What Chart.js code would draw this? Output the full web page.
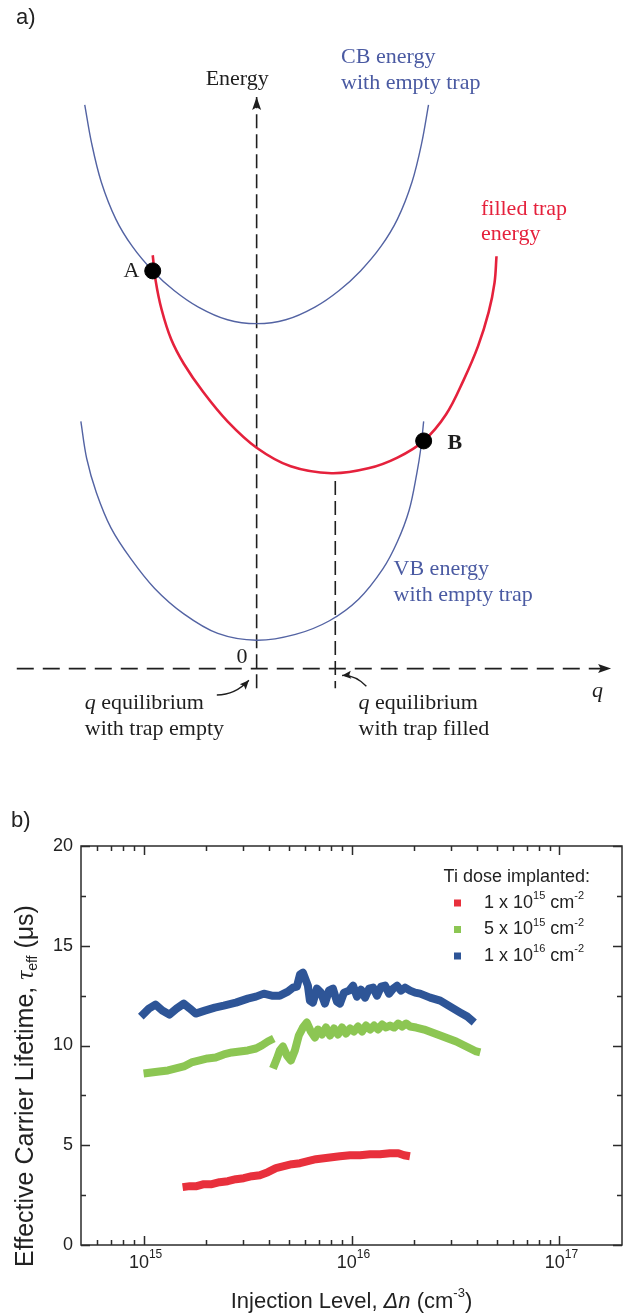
<!DOCTYPE html>
<html>
<head>
<meta charset="utf-8">
<script src="https://cdn.jsdelivr.net/npm/chart.js@4.4.1/dist/chart.umd.min.js"></script>
<style>
  html, body { margin: 0; padding: 0; background: #fff; }
  #wrapA { position: absolute; left: 0; top: 0; width: 623px; height: 790px; }
  #wrapB { position: absolute; left: 0; top: 790px; width: 623px; height: 526px; }
</style>
</head>
<body>
<div id="wrapA"><canvas id="diagram"></canvas></div>
<div id="wrapB"><canvas id="lifetime"></canvas></div>
<script>
// ---- panel a: configuration-coordinate sketch (q, energy) ----
const cbQ = [-1.77, -1.70, -1.60, -1.45, -1.28, -1.07, -0.85, -0.60, -0.30, 0, 0.30, 0.60, 0.85, 1.07, 1.28, 1.45, 1.60, 1.70, 1.77];
const cbE = [5.77, 5.38, 4.98, 4.60, 4.32, 4.07, 3.87, 3.70, 3.57, 3.53, 3.57, 3.70, 3.87, 4.07, 4.32, 4.60, 4.98, 5.38, 5.77];
const vbQ = [-1.81, -1.75, -1.65, -1.50, -1.30, -1.05, -0.75, -0.40, 0, 0.40, 0.75, 1.05, 1.30, 1.45, 1.57, 1.65, 1.69, 1.72];
const vbE = [2.53, 2.15, 1.80, 1.44, 1.13, 0.82, 0.56, 0.36, 0.29, 0.35, 0.49, 0.71, 1.02, 1.30, 1.62, 2.0, 2.25, 2.53];
const trapQ = [-1.07, -1.04, -0.98, -0.88, -0.75, -0.55, -0.30, 0, 0.35, 0.77, 1.15, 1.45, 1.72, 1.95, 2.13, 2.28, 2.39, 2.45, 2.47];
const trapE = [4.23, 3.97, 3.68, 3.37, 3.12, 2.83, 2.53, 2.26, 2.07, 2.0, 2.05, 2.16, 2.33, 2.60, 2.95, 3.30, 3.65, 3.95, 4.22];
const crossQ = [-1.07, 1.72];
const crossE = [4.07, 2.33];
const eAxisQ = [0, 0], eAxisE = [-0.2, 5.85];
const qAxisQ = [-2.47, 3.65], qAxisE = [0, 0];
const filledQ = [0.81, 0.81], filledE = [1.92, -0.2];

// ---- panel b: effective lifetime vs injection level ----
const redX = [1.54e15, 1.67e15, 1.80e15, 1.95e15, 2.13e15, 2.32e15, 2.54e15, 2.78e15, 3.03e15, 3.32e15, 3.62e15, 3.96e15, 4.33e15, 4.73e15, 5.17e15, 5.65e15, 6.17e15, 6.75e15, 7.37e15, 8.05e15, 8.8e15, 9.84e15, 1.1e16, 1.23e16, 1.37e16, 1.53e16, 1.68e16, 1.79e16, 1.91e16];
const redY = [2.9, 2.95, 2.95, 3.05, 3.05, 3.15, 3.2, 3.3, 3.35, 3.45, 3.5, 3.65, 3.85, 3.95, 4.05, 4.1, 4.2, 4.3, 4.35, 4.4, 4.45, 4.5, 4.5, 4.55, 4.55, 4.6, 4.6, 4.5, 4.45];

const greenX = [1.0e15, 1.09e15, 1.19e15, 1.31e15, 1.43e15, 1.56e15, 1.70e15, 1.86e15, 2.03e15, 2.22e15, 2.43e15, 2.66e15, 2.90e15, 3.17e15, 3.47e15, 3.70e15, 3.96e15, 4.23e15,
  4.21e15,
  4.19e15, 4.38e15, 4.52e15, 4.68e15, 4.89e15, 5.11e15, 5.34e15, 5.58e15, 5.84e15, 6.10e15, 6.38e15, 6.67e15, 6.90e15, 7.21e15, 7.54e15, 7.88e15, 8.24e15, 8.61e15, 9.0e15, 9.41e15,
  9.84e15, 1.028e16, 1.075e16, 1.124e16, 1.175e16, 1.228e16, 1.284e16, 1.342e16, 1.403e16, 1.467e16, 1.533e16, 1.603e16, 1.676e16, 1.752e16, 1.831e16, 1.914e16, 2.046e16, 2.236e16,
  2.443e16, 2.671e16, 2.917e16, 3.188e16, 3.485e16, 3.725e16, 3.981e16, 4.162e16];
const greenY = [8.6, 8.65, 8.7, 8.75, 8.85, 8.95, 9.15, 9.25, 9.35, 9.4, 9.55, 9.65, 9.7, 9.75, 9.85, 10.0, 10.2, 10.35,
  null,
  8.85, 9.35, 9.75, 9.95, 9.5, 9.25, 9.75, 10.5, 10.9, 11.15, 10.7, 10.4, 10.8, 10.55, 10.9, 10.5, 10.85, 10.55, 10.9, 10.6,
  10.85, 10.7, 10.95, 10.7, 11.0, 10.8, 11.0, 10.8, 11.05, 10.9, 11.0, 10.9, 11.1, 10.95, 11.1, 10.95, 10.9, 10.8,
  10.65, 10.5, 10.35, 10.2, 10.0, 9.85, 9.7, 9.65];

const blueX = [9.7e14, 1.06e15, 1.14e15, 1.23e15, 1.33e15, 1.44e15, 1.56e15, 1.67e15, 1.78e15, 1.97e15, 2.2e15, 2.43e15, 2.78e15, 3.17e15, 3.47e15, 3.79e15, 4.14e15, 4.52e15, 4.94e15, 5.23e15,
  5.46e15, 5.65e15, 5.84e15, 6.04e15, 6.17e15, 6.31e15, 6.52e15, 6.82e15, 7.13e15, 7.45e15, 7.79e15, 8.14e15, 8.51e15, 8.8e15, 9.2e15, 9.73e15, 1.017e16, 1.063e16, 1.111e16, 1.162e16,
  1.215e16, 1.27e16, 1.327e16, 1.388e16, 1.45e16, 1.516e16, 1.585e16, 1.657e16, 1.732e16, 1.81e16, 1.914e16, 2.023e16, 2.138e16, 2.389e16, 2.671e16, 2.984e16, 3.335e16, 3.603e16, 3.894e16];
const blueY = [11.45, 11.85, 12.05, 11.75, 11.55, 11.85, 12.1, 11.85, 11.6, 11.75, 11.9, 12.0, 12.15, 12.35, 12.45, 12.6, 12.5, 12.5, 12.7, 12.9,
  12.95, 13.55, 13.65, 13.25, 13.0, 12.25, 12.15, 12.85, 12.65, 12.1, 12.75, 12.85, 12.2, 12.1, 12.65, 12.75, 13.0, 12.45, 12.8, 12.4,
  12.85, 12.9, 12.5, 12.95, 13.0, 12.6, 12.85, 13.0, 12.75, 12.9, 12.75, 12.65, 12.6, 12.4, 12.25, 11.95, 11.65, 11.45, 11.15];

const doseMantissa = ['1', '5', '1'];
const doseExponent = ['15', '15', '16'];
const yTicks = [0, 5, 10, 15, 20];
const yMinorTicks = [2.5, 7.5, 12.5, 17.5];
const xDecades = [14, 15, 16, 17];
const xLabelDecades = [15, 16, 17];
const xFactors = [1, 2, 3, 4, 5, 6, 7, 8, 9];

const SANS = '"Liberation Sans", Arial, Helvetica, sans-serif';
const SERIF = '"Liberation Serif", "Times New Roman", serif';
const INK = '#1e1e1e';
const CURVE_BLUE = '#5363a3';
const TEXT_BLUE = '#4a5aa2';
const TRAP_RED = '#e5213c';
const SERIES_COLORS = ['#e8303c', '#8cc653', '#2e5597'];

function pts(xs, ys) {
  return xs.map((x, i) => ({ x: x, y: ys[i] }));
}

function drawRich(ctx, parts, x, y, align, baseFont) {
  let w = 0;
  const sized = parts.map(p => {
    ctx.font = p.font || baseFont;
    const pw = ctx.measureText(p.t).width;
    w += pw;
    return { t: p.t, font: p.font || baseFont, dy: p.dy || 0, w: pw };
  });
  let cx = align === 'center' ? x - w / 2 : align === 'right' ? x - w : x;
  ctx.textAlign = 'left';
  sized.forEach(p => {
    ctx.font = p.font;
    ctx.fillText(p.t, cx, y + p.dy);
    cx += p.w;
  });
}

function arrowHead(ctx, tx, ty, angle, len, half) {
  ctx.save();
  ctx.translate(tx, ty);
  ctx.rotate(angle);
  ctx.beginPath();
  ctx.moveTo(0, 0);
  ctx.lineTo(-len, -half);
  ctx.lineTo(-len * 0.8, 0);
  ctx.lineTo(-len, half);
  ctx.closePath();
  ctx.fill();
  ctx.restore();
}

const serif22 = `22px ${SERIF}`;
const qItalic = { t: 'q', font: `italic 22px ${SERIF}` };
const diagramLabels = [
  { parts: [{ t: 'Energy' }], q: -0.20, e: 6.03, align: 'center', color: INK },
  { parts: [{ t: 'CB energy' }], q: 0.87, e: 6.26, align: 'left', color: TEXT_BLUE },
  { parts: [{ t: 'with empty trap' }], q: 0.87, e: 5.99, align: 'left', color: TEXT_BLUE },
  { parts: [{ t: 'filled trap' }], q: 2.31, e: 4.70, align: 'left', color: TRAP_RED },
  { parts: [{ t: 'energy' }], q: 2.31, e: 4.45, align: 'left', color: TRAP_RED },
  { parts: [{ t: 'A' }], q: -1.29, e: 4.07, align: 'center', color: INK },
  { parts: [{ t: 'B', font: `bold 22px ${SERIF}` }], q: 2.04, e: 2.31, align: 'center', color: INK },
  { parts: [{ t: 'VB energy' }], q: 1.41, e: 1.02, align: 'left', color: TEXT_BLUE },
  { parts: [{ t: 'with empty trap' }], q: 1.41, e: 0.75, align: 'left', color: TEXT_BLUE },
  { parts: [{ t: '0' }], q: -0.15, e: 0.12, align: 'center', color: INK },
  { parts: [qItalic], q: 3.51, e: -0.23, align: 'center', color: INK },
  { parts: [qItalic, { t: ' equilibrium' }], q: -1.77, e: -0.35, align: 'left', color: INK },
  { parts: [{ t: 'with trap empty' }], q: -1.77, e: -0.62, align: 'left', color: INK },
  { parts: [qItalic, { t: ' equilibrium' }], q: 1.05, e: -0.35, align: 'left', color: INK },
  { parts: [{ t: 'with trap filled' }], q: 1.05, e: -0.62, align: 'left', color: INK }
];
const pointers = [
  { from: [-0.41, -0.27], ctrl: [-0.22, -0.27], to: [-0.08, -0.12] },
  { from: [1.13, -0.18], ctrl: [1.01, -0.06], to: [0.88, -0.07] }
];

const diagramNotes = {
  id: 'diagramNotes',
  afterDraw(chart) {
    const { ctx, scales: { x, y } } = chart;
    const px = q => x.getPixelForValue(q);
    const py = e => y.getPixelForValue(e);
    ctx.save();
    ctx.fillStyle = INK;
    arrowHead(ctx, px(eAxisQ[1]), py(eAxisE[1]), -Math.PI / 2, 13, 4.5);
    arrowHead(ctx, px(qAxisQ[1]), py(qAxisE[1]), 0, 13, 4.5);

    ctx.strokeStyle = INK;
    ctx.lineWidth = 1.4;
    pointers.forEach(p => {
      const fx = px(p.from[0]), fy = py(p.from[1]);
      const cx = px(p.ctrl[0]), cy = py(p.ctrl[1]);
      const tx = px(p.to[0]), ty = py(p.to[1]);
      ctx.beginPath();
      ctx.moveTo(fx, fy);
      ctx.quadraticCurveTo(cx, cy, tx, ty);
      ctx.stroke();
      arrowHead(ctx, tx, ty, Math.atan2(ty - cy, tx - cx), 9, 4);
    });

    ctx.textBaseline = 'middle';
    diagramLabels.forEach(l => {
      ctx.fillStyle = l.color;
      drawRich(ctx, l.parts, px(l.q), py(l.e), l.align, serif22);
    });

    ctx.fillStyle = '#222';
    ctx.font = `22px ${SANS}`;
    ctx.textAlign = 'left';
    ctx.fillText('a)', 16, 18);
    ctx.restore();
  }
};

const curveStyle = { showLine: true, pointRadius: 0, tension: 0.35 };
new Chart(document.getElementById('diagram'), {
  type: 'scatter',
  data: {
    datasets: [
      { label: 'crossings', data: pts(crossQ, crossE), pointRadius: 8, pointBackgroundColor: '#000', pointBorderColor: '#000', showLine: false },
      Object.assign({ label: 'filled trap energy', data: pts(trapQ, trapE), borderColor: TRAP_RED, borderWidth: 2.6 }, curveStyle),
      Object.assign({ label: 'CB energy', data: pts(cbQ, cbE), borderColor: CURVE_BLUE, borderWidth: 1.4 }, curveStyle),
      Object.assign({ label: 'VB energy', data: pts(vbQ, vbE), borderColor: CURVE_BLUE, borderWidth: 1.4 }, curveStyle),
      { label: 'energy axis', data: pts(eAxisQ, eAxisE), showLine: true, borderColor: INK, borderWidth: 1.6, borderDash: [14, 6], pointRadius: 0 },
      { label: 'q axis', data: pts(qAxisQ, qAxisE), showLine: true, borderColor: INK, borderWidth: 1.6, borderDash: [17, 9], pointRadius: 0 },
      { label: 'q filled', data: pts(filledQ, filledE), showLine: true, borderColor: INK, borderWidth: 1.6, borderDash: [14, 6], pointRadius: 0 }
    ]
  },
  options: {
    responsive: true,
    maintainAspectRatio: false,
    animation: false,
    layout: { padding: 0 },
    plugins: { legend: { display: false }, tooltip: { enabled: false } },
    scales: {
      x: { type: 'linear', min: -2.55, max: 3.68, display: false },
      y: { type: 'linear', min: -1.15, max: 6.75, display: false }
    }
  },
  plugins: [diagramNotes]
});

const lifetimeFrame = {
  id: 'lifetimeFrame',
  afterDatasetsDraw(chart) {
    const { ctx, chartArea: a, scales: { x, y } } = chart;
    ctx.save();
    ctx.strokeStyle = '#2b2b2b';
    ctx.lineWidth = 1.5;
    ctx.strokeRect(a.left, a.top, a.right - a.left, a.bottom - a.top);

    ctx.beginPath();
    xDecades.forEach(d => xFactors.forEach(k => {
      const v = k * Math.pow(10, d);
      if (v <= x.min || v >= x.max) return;
      const p = Math.round(x.getPixelForValue(v)) + 0.5;
      const len = k === 1 ? 9 : 5;
      ctx.moveTo(p, a.bottom); ctx.lineTo(p, a.bottom - len);
      ctx.moveTo(p, a.top); ctx.lineTo(p, a.top + len);
    }));
    yTicks.concat(yMinorTicks).forEach(v => {
      const p = Math.round(y.getPixelForValue(v)) + 0.5;
      const len = yTicks.includes(v) ? 9 : 5;
      ctx.moveTo(a.left, p); ctx.lineTo(a.left + len, p);
      ctx.moveTo(a.right, p); ctx.lineTo(a.right - len, p);
    });
    ctx.stroke();
    ctx.restore();
  },
  afterDraw(chart) {
    const { ctx, chartArea: a, scales: { x, y } } = chart;
    ctx.save();
    ctx.fillStyle = '#222';
    ctx.textBaseline = 'middle';
    const tickFont = `18px ${SANS}`;
    const supFont = `12px ${SANS}`;

    yTicks.forEach(v => {
      ctx.font = tickFont;
      ctx.textAlign = 'right';
      ctx.fillText(String(v), a.left - 8, y.getPixelForValue(v));
    });
    xLabelDecades.forEach(d => {
      drawRich(ctx, [{ t: '10' }, { t: String(d), font: supFont, dy: -8 }],
        x.getPixelForValue(Math.pow(10, d)) + 2, a.bottom + 18, 'center', tickFont);
    });

    drawRich(ctx, [
      { t: 'Injection Level, ' },
      { t: 'Δn', font: `italic 22px ${SANS}` },
      { t: ' (cm' },
      { t: '-3', font: `13px ${SANS}`, dy: -9 },
      { t: ')' }
    ], (a.left + a.right) / 2, a.bottom + 57, 'center', `22px ${SANS}`);

    ctx.save();
    ctx.translate(26, 296);
    ctx.rotate(-Math.PI / 2);
    drawRich(ctx, [
      { t: 'Effective Carrier Lifetime, ' },
      { t: 'τ', font: `italic 25px ${SERIF}` },
      { t: 'eff', font: `14px ${SANS}`, dy: 7 },
      { t: ' (μs)' }
    ], 0, 0, 'center', `25px ${SANS}`);
    ctx.restore();

    // legend
    const legFont = `18px ${SANS}`;
    drawRich(ctx, [{ t: 'Ti dose implanted:' }], 590, a.top + 31, 'right', legFont);
    chart.data.datasets.forEach((ds, i) => {
      const ly = a.top + 57 + i * 26.5;
      ctx.fillStyle = ds.borderColor;
      ctx.fillRect(454, ly - 3.5, 7, 7);
      ctx.fillStyle = '#222';
      drawRich(ctx, [
        { t: doseMantissa[i] + ' x 10' },
        { t: doseExponent[i], font: `11px ${SANS}`, dy: -7 },
        { t: ' cm' },
        { t: '-2', font: `11px ${SANS}`, dy: -7 }
      ], 484, ly, 'left', legFont);
    });

    ctx.font = `22px ${SANS}`;
    ctx.textAlign = 'left';
    ctx.fillText('b)', 11, 31);
    ctx.restore();
  }
};

const seriesStyle = { showLine: true, borderWidth: 8, pointRadius: 0, borderJoinStyle: 'round', spanGaps: false };
new Chart(document.getElementById('lifetime'), {
  type: 'scatter',
  data: {
    datasets: [
      Object.assign({ label: '1 x 10^15 cm^-2', data: pts(redX, redY), borderColor: SERIES_COLORS[0] }, seriesStyle),
      Object.assign({ label: '5 x 10^15 cm^-2', data: pts(greenX, greenY), borderColor: SERIES_COLORS[1] }, seriesStyle),
      Object.assign({ label: '1 x 10^16 cm^-2', data: pts(blueX, blueY), borderColor: SERIES_COLORS[2] }, seriesStyle)
    ]
  },
  options: {
    responsive: true,
    maintainAspectRatio: false,
    animation: false,
    layout: { padding: { left: 81, right: 1, top: 56, bottom: 71 } },
    plugins: { legend: { display: false }, tooltip: { enabled: false } },
    scales: {
      x: { type: 'logarithmic', min: 5e14, max: 2e17, display: false },
      y: { type: 'linear', min: 0, max: 20, display: false }
    }
  },
  plugins: [lifetimeFrame]
});
</script>
</body>
</html>
